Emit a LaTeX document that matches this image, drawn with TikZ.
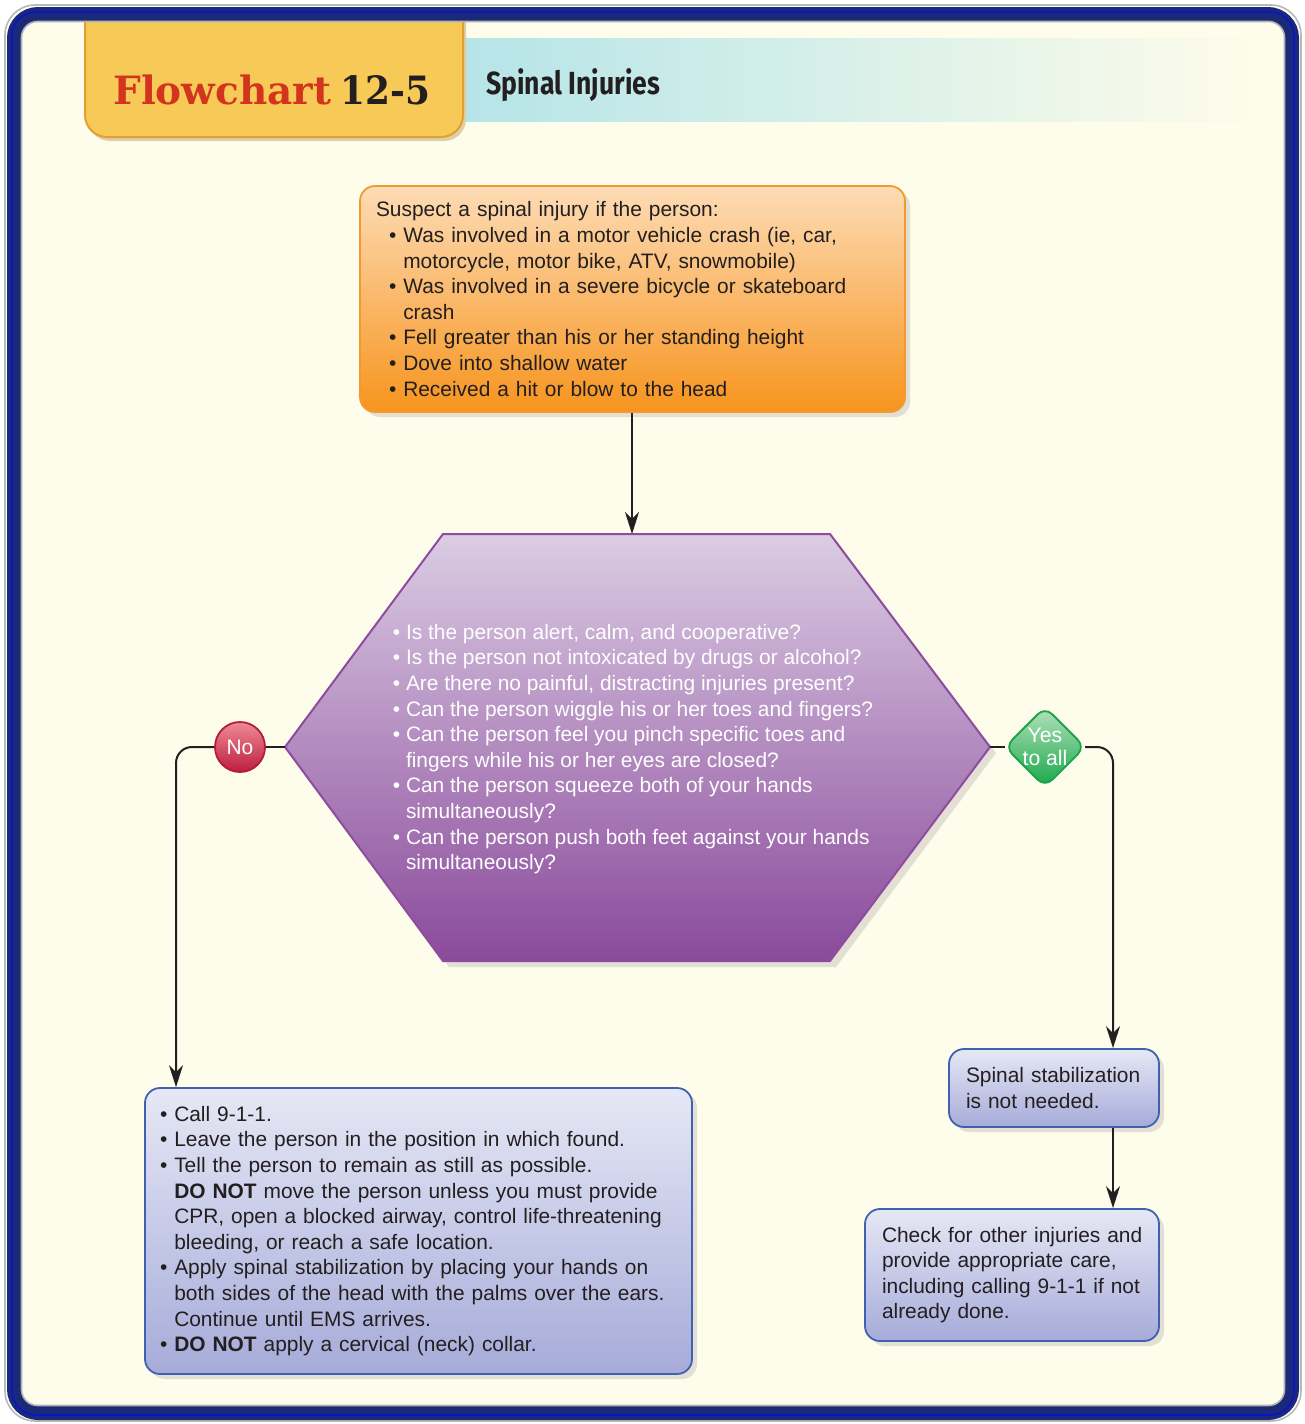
\documentclass[tikz,border=0pt]{standalone}
\usepackage{fontspec}
\setmainfont{Liberation Sans}
\newfontfamily\slabfont{DejaVu Serif}
\newfontfamily\titlefont{Fira Sans}
\usetikzlibrary{arrows.meta,shadows}

\definecolor{cream}{HTML}{FEFCEA}
\definecolor{navy}{HTML}{1B2A78}
\definecolor{inktext}{HTML}{231F20}
\definecolor{shadowc}{HTML}{E4DFD5}
\definecolor{orangetop}{HTML}{FDDCB5}
\definecolor{orangebot}{HTML}{F7941E}
\definecolor{orangeline}{HTML}{F39A2C}
\definecolor{hextop}{HTML}{DBCCE3}
\definecolor{hexbot}{HTML}{8A4A9B}
\definecolor{hexline}{HTML}{8E4C9F}
\definecolor{bluetop}{HTML}{E6E8F5}
\definecolor{bluebot}{HTML}{A6ABD9}
\definecolor{blueline}{HTML}{3E62B0}
\definecolor{redtop}{HTML}{EE8A96}
\definecolor{redbot}{HTML}{BE1E3E}
\definecolor{redline}{HTML}{B51B3A}
\definecolor{greentop}{HTML}{B5E2BB}
\definecolor{greenbot}{HTML}{17A74A}
\definecolor{greenline}{HTML}{1CA34A}
\definecolor{tabgold}{HTML}{F7CA57}
\definecolor{tabline}{HTML}{E2A030}
\definecolor{tabshadow}{HTML}{DDD0A8}
\definecolor{cyanband}{HTML}{B5E4E8}
\definecolor{titlered}{HTML}{D2341E}

\newcommand\blt{\textbullet\ }
\newcommand\bpad{\hphantom{\textbullet\ }}

\tikzset{
  bodyfont/.style={font=\fontsize{10.45pt}{12.8pt}\selectfont},
  stepbox/.style={bodyfont, text=inktext, rounded corners=7.5pt, line width=0.9pt,
    draw=blueline, top color=bluetop, bottom color=bluebot,
    align=left, inner ysep=0pt,
    drop shadow={shadow xshift=2.5pt, shadow yshift=-2.5pt, fill=shadowc, opacity=1}},
  orangebox/.style={stepbox, draw=orangeline, top color=orangetop, bottom color=orangebot},
  link/.style={draw=inktext, line width=1pt},
  arrowlink/.style={link, -{Stealth[length=11pt, width=7pt, inset=3.5pt]}},
  answer/.style={bodyfont, text=white, align=center, inner sep=0pt},
  headfont/.style={font=\slabfont\bfseries\fontsize{19.5pt}{19.5pt}\selectfont},
}

\begin{document}
\begin{tikzpicture}[x=0.5pt, y=-0.5pt]
  \useasboundingbox (0,0) rectangle (1305,1424);
  \fill[white] (0,0) rectangle (1305,1424);

  % page background inside the frame
  \fill[cream, rounded corners=8pt] (16,16) rectangle (1291,1411);

  % title band and tab
  \shade[left color=cyanband, right color=cream] (463,38) rectangle (1255,121);
  \path[fill=tabshadow, rounded corners=11pt] (88,14) -- (88,141) -- (466,141) -- (466,14);
  \path[fill=tabgold, draw=tabline, line width=1pt, rounded corners=11pt]
    (85,14) -- (85,137) -- (463,137) -- (463,14);
  \node[anchor=base west, inner sep=0pt, text=titlered, headfont] (fctitle) at (113,104)
        {Flowchart};
  \node[anchor=base west, inner sep=0pt, text=inktext, headfont] (fcnum) at (340,104)
        {\scalebox{0.92}[1]{12-5}};
  \node[anchor=base west, inner sep=0pt, text=inktext,
        font=\titlefont\bfseries\fontsize{16pt}{16pt}\selectfont] (fcname) at (486,94)
        {\scalebox{0.83}[1]{Spinal Injuries}};

  % frame
  \draw[gray!55, line width=0.8pt, rounded corners=15pt] (5,5) rectangle (1301,1421);
  \draw[navy, line width=7pt, rounded corners=12pt] (14,14) rectangle (1292,1413);
  \draw[blue!55!navy, line width=0.8pt, rounded corners=12pt] (12,12) rectangle (1294,1415);
  \draw[gray!60, line width=0.8pt, rounded corners=8pt] (21.5,21.5) rectangle (1284.5,1405.5);

  % start box
  \node[orangebox, minimum width=272.5pt, minimum height=113pt, text width=256.5pt,
        inner xsep=8pt] (start) at (632.5,299) {%
    Suspect a spinal injury if the person:\\
    \hspace*{6.5pt}\blt Was involved in a motor vehicle crash (ie, car,\\
    \hspace*{6.5pt}\bpad motorcycle, motor bike, ATV, snowmobile)\\
    \hspace*{6.5pt}\blt Was involved in a severe bicycle or skateboard\\
    \hspace*{6.5pt}\bpad crash\\
    \hspace*{6.5pt}\blt Fell greater than his or her standing height\\
    \hspace*{6.5pt}\blt Dove into shallow water\\
    \hspace*{6.5pt}\blt Received a hit or blow to the head};

  % hexagonal decision
  \coordinate (hexT) at (632,534);
  \coordinate (hexL) at (285,747);
  \coordinate (hexR) at (990,747);
  \fill[shadowc] (449,540) -- (836,540) -- (996,753) -- (836,967) -- (449,967) -- (291,753) -- cycle;
  \path[draw=hexline, line width=1pt, top color=hextop, bottom color=hexbot]
    (443,534) -- (830,534) -- (990,747) -- (830,961) -- (443,961) -- (285,747) -- cycle;
  \node[bodyfont, text=white, align=left, inner sep=0pt] (check) at (633,749) {%
    \blt Is the person alert, calm, and cooperative?\\
    \blt Is the person not intoxicated by drugs or alcohol?\\
    \blt Are there no painful, distracting injuries present?\\
    \blt Can the person wiggle his or her toes and fingers?\\
    \blt Can the person feel you pinch specific toes and\\
    \bpad fingers while his or her eyes are closed?\\
    \blt Can the person squeeze both of your hands\\
    \bpad simultaneously?\\
    \blt Can the person push both feet against your hands\\
    \bpad simultaneously?};

  % answer markers
  \node[answer, circle, minimum size=25pt, draw=redline, line width=0.9pt,
        top color=redtop, bottom color=redbot] (no) at (240,747) {No};
  \path[draw=greenline, line width=0.9pt, top color=greentop, bottom color=greenbot,
        rounded corners=5pt] (1045,707) -- (1085,747) -- (1045,787) -- (1005,747) -- cycle;
  \coordinate (yesL) at (1005,747);
  \coordinate (yesR) at (1085,747);
  \node[answer, font=\fontsize{10.6pt}{11.5pt}\selectfont] (yes) at (1045,747) {Yes\\to all};

  % outcome boxes
  \node[stepbox, minimum width=273.5pt, minimum height=143pt, text width=258.5pt,
        inner xsep=7.5pt] (care) at (418.5,1231) {%
    \blt Call 9-1-1.\\
    \blt Leave the person in the position in which found.\\
    \blt Tell the person to remain as still as possible.\\
    \bpad\textbf{DO NOT} move the person unless you must provide\\
    \bpad CPR, open a blocked airway, control life-threatening\\
    \bpad bleeding, or reach a safe location.\\
    \blt Apply spinal stabilization by placing your hands on\\
    \bpad both sides of the head with the palms over the ears.\\
    \bpad Continue until EMS arrives.\\
    \blt\textbf{DO NOT} apply a cervical (neck) collar.};

  \node[stepbox, minimum width=105pt, minimum height=39pt, text width=88pt,
        inner xsep=8.5pt] (notneeded) at (1054,1088) {%
    \mbox{Spinal stabilization}\\
    \mbox{is not needed.}};

  \node[stepbox, minimum width=147pt, minimum height=66pt, text width=130pt,
        inner xsep=8.5pt] (other) at (1012,1275) {%
    \mbox{Check for other injuries and}\\
    \mbox{provide appropriate care,}\\
    \mbox{including calling 9-1-1 if not}\\
    \mbox{already done.}};

  % connectors
  \coordinate (noturn) at (176,747);
  \coordinate (yesturn) at (1113,747);
  \draw[arrowlink] (start.south -| hexT) -- (hexT);
  \draw[link] (hexL) -- (no.east);
  \draw[arrowlink, rounded corners=8pt] (no.west) -- (noturn) -- (care.north -| noturn);
  \draw[link] (hexR) -- (yesL);
  \draw[arrowlink, rounded corners=8pt] (yesR) -- (yesturn) -- (notneeded.north -| yesturn);
  \draw[arrowlink] (notneeded.south -| yesturn) -- (other.north -| yesturn);
\end{tikzpicture}
\end{document}
